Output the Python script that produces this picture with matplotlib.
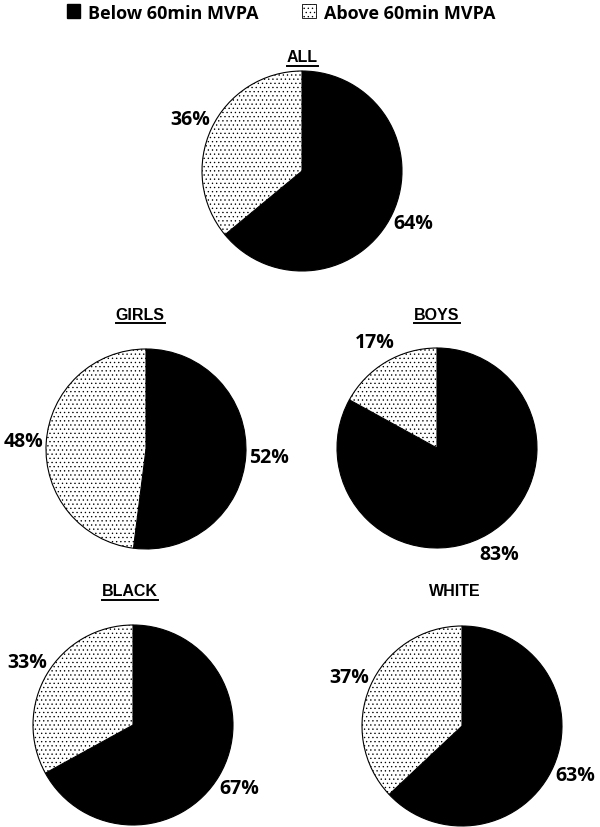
import matplotlib
matplotlib.use("Agg")
import matplotlib.pyplot as plt
from matplotlib.patches import Patch

groups = ["ALL", "GIRLS", "BOYS", "BLACK", "WHITE"]
below = [64, 52, 83, 67, 63]
above = [36, 48, 17, 33, 37]
underlined = [True, True, True, True, False]
series_names = ["Below 60min MVPA", "Above 60min MVPA"]

plt.rcParams["hatch.linewidth"] = 0.45
W, H = 600, 828
fig = plt.figure(figsize=(W / 100, H / 100), dpi=100)

# pixel centers of each pie (layout)
centers = [(302, 172), (146, 450), (437, 449), (133, 726), (462, 727)]
title_pos = [(302, 58), (140, 315), (437, 315), (130, 592), (455, 592)]
R = 100
lab_font = ["Open Sans", "DejaVu Sans"]

titles = []
for g, b, a, (cx, cy), (tx, ty), ul in zip(groups, below, above, centers, title_pos, underlined):
    ax = fig.add_axes([(cx - R) / W, 1 - (cy + R) / H, 2 * R / W, 2 * R / H])
    wedges, texts, autotexts = ax.pie(
        [b, a], startangle=90, counterclock=False, radius=1,
        colors=["black", "white"], autopct=lambda p: f"{p:.0f}%",
        pctdistance=1.23,
        wedgeprops=dict(edgecolor="black", linewidth=0.8),
        textprops=dict(fontsize=14, fontweight="bold", family=lab_font, color="black"))
    wedges[1].set_hatch("....")
    for t in autotexts:
        t.set_color("black")
    ax.set_xlim(-1.0, 1.0)
    ax.set_ylim(-1.0, 1.0)
    ax.set_aspect("equal")
    ax.axis("off")
    t = fig.text(tx / W, 1 - ty / H, g, ha="center", va="center", fontsize=11.5,
                 fontweight="bold", family="Liberation Sans")
    titles.append((t, ul))

fig.canvas.draw()
r = fig.canvas.get_renderer()
for t, ul in titles:
    if ul:
        bb = t.get_window_extent(r)
        y = bb.y0 - 1
        fig.add_artist(plt.Line2D([bb.x0 / W, bb.x1 / W], [y / H, y / H],
                                  transform=fig.transFigure, color="black", lw=1.4))

handles = [Patch(facecolor="black", edgecolor="black"),
           Patch(facecolor="white", edgecolor="black", hatch="....", linewidth=0.6)]
fig.legend(handles, series_names, loc="upper center", bbox_to_anchor=(0.468, 1.014),
           ncol=2, frameon=False, prop=dict(family="Open Sans", weight="bold", size=13),
           handlelength=0.75, handleheight=0.8, handletextpad=0.45, columnspacing=2.4)

fig.savefig("out.png", dpi=100)
